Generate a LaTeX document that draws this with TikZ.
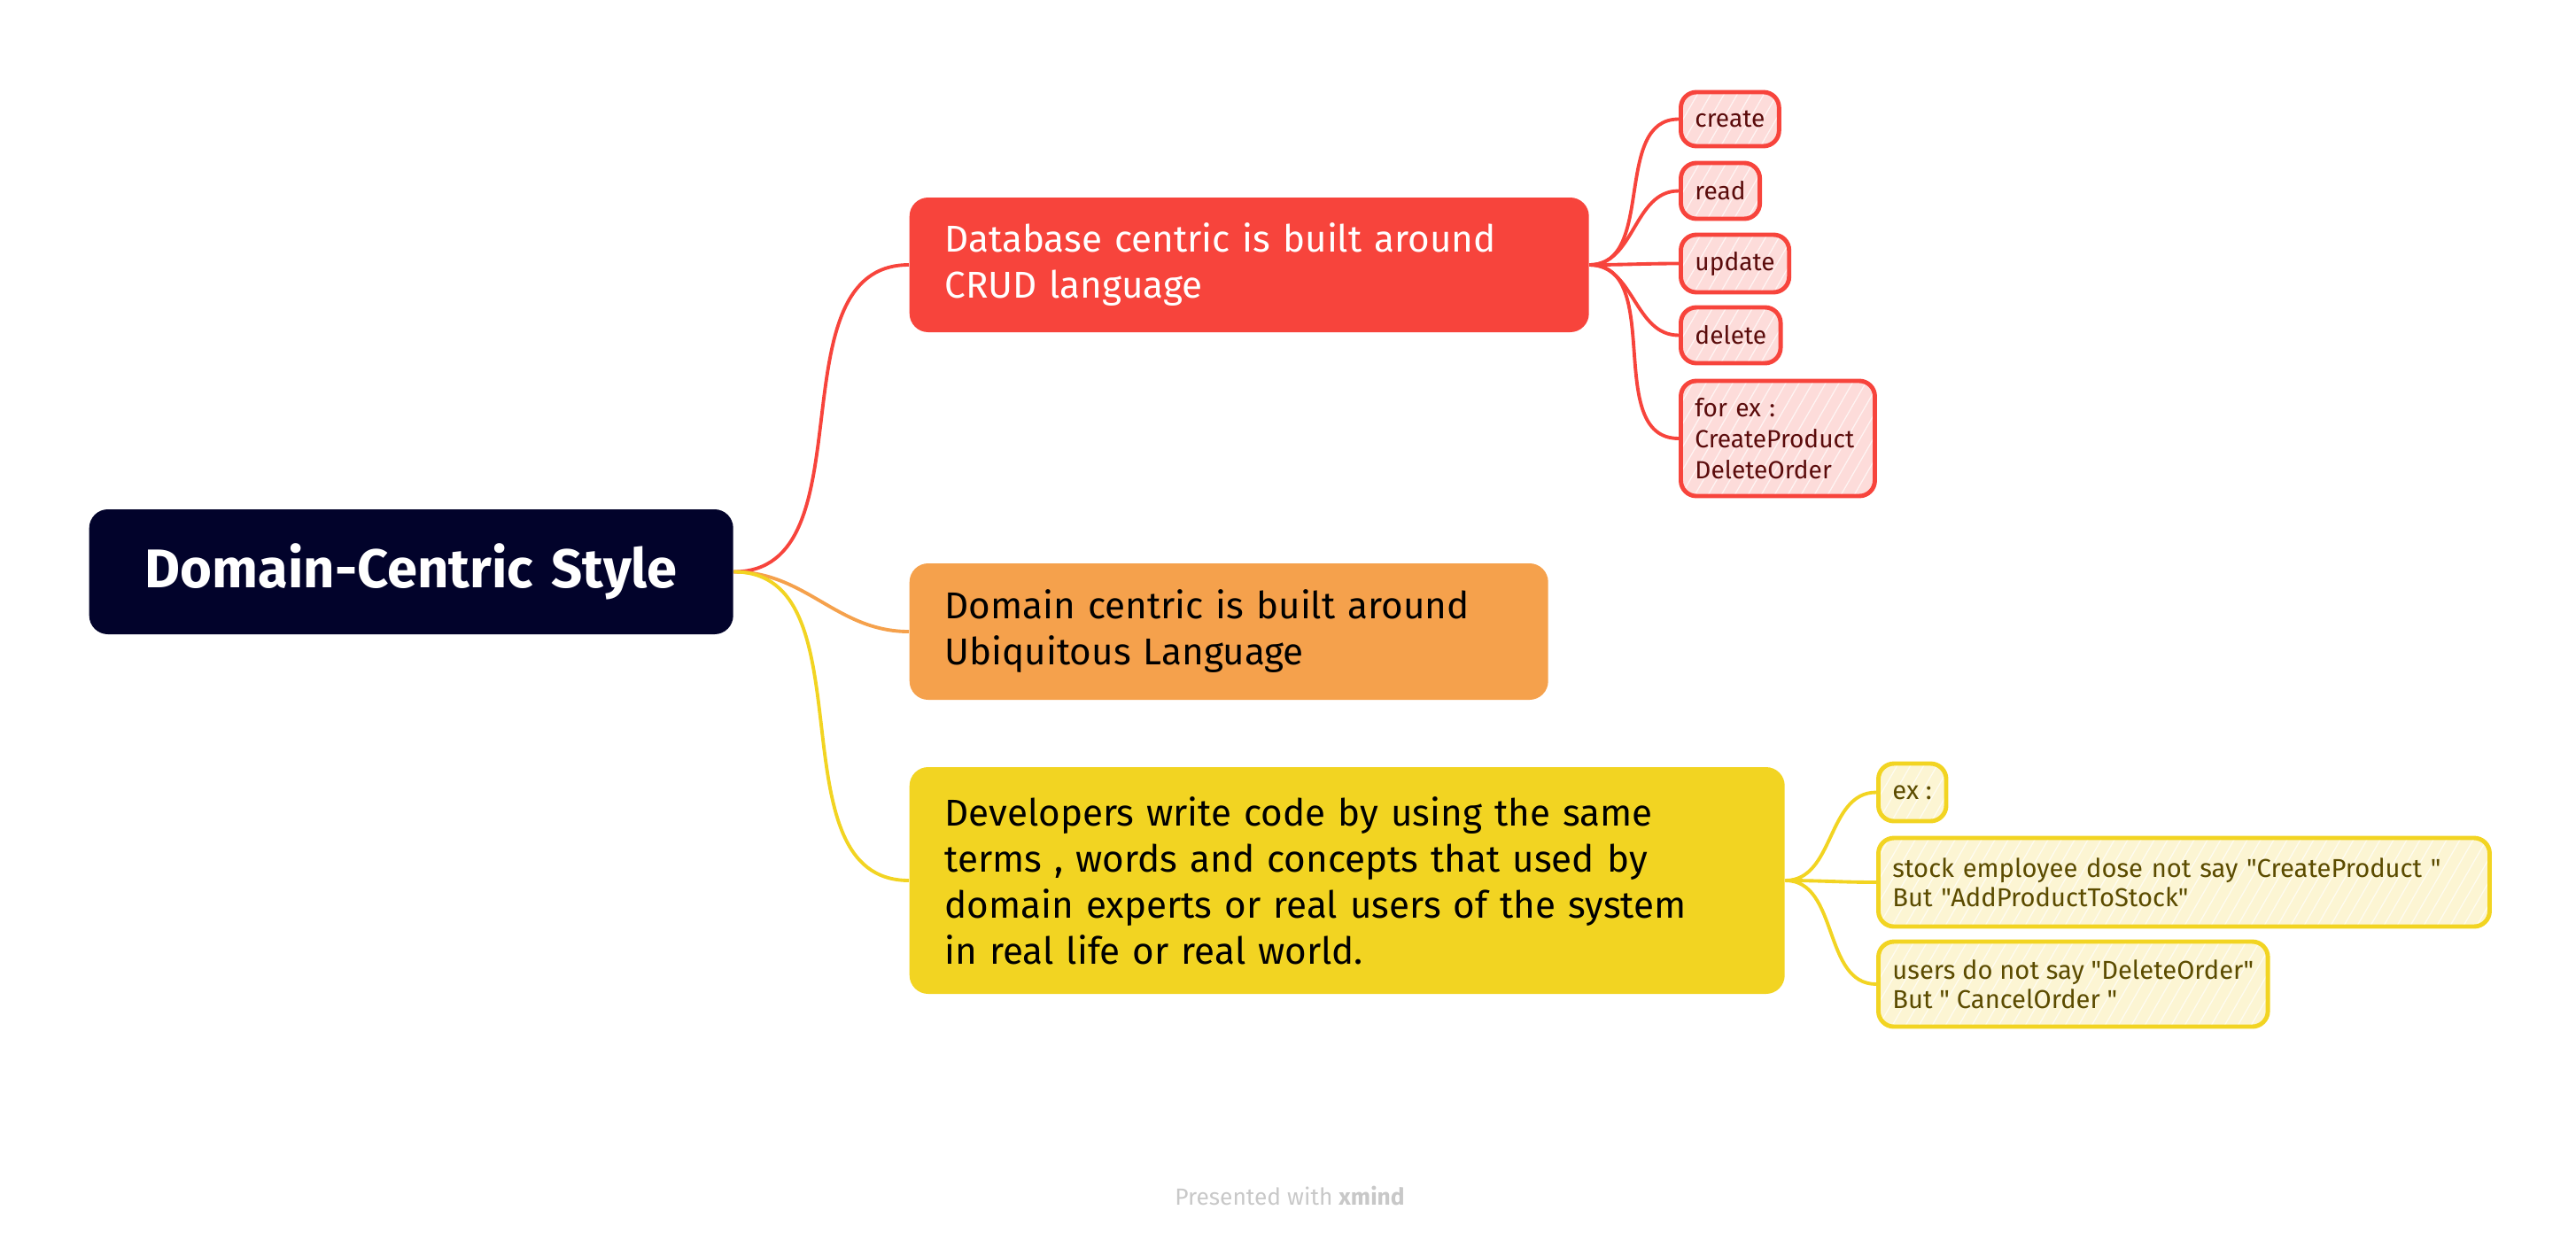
\documentclass[tikz,border=0pt]{standalone}
\usepackage{fontspec}
\setmainfont{Fira Sans}[Ligatures=TeXOff]
\usepackage{tikz}
\definecolor{rootnavy}{HTML}{02032B}
\definecolor{crudred}{HTML}{F7443C}
\definecolor{ubiqorange}{HTML}{F5A14C}
\definecolor{devyellow}{HTML}{F2D422}
\definecolor{crudpink}{HTML}{FDDCDA}
\definecolor{crudtext}{HTML}{5A0B0B}
\definecolor{devpale}{HTML}{FCF5D3}
\definecolor{devtext}{HTML}{5B4B00}
\definecolor{footgray}{HTML}{C8C8C8}
\tikzstyle{topic} = [anchor=west, rounded corners=6pt, inner xsep=0.4cm, inner ysep=0pt, align=left, font=\fontsize{12}{14.8}\selectfont]
\tikzstyle{hatch} = [path picture={\foreach \k in {-1.5,-1.35,...,7.2}
    \draw[white, line width=0.35pt, opacity=0.7] ([xshift=\k cm]path picture bounding box.south west) -- ++(0.75,-1.3);}]
\tikzstyle{crudsub} = [anchor=west, rounded corners=5pt, line width=1.4pt, draw=crudred, fill=crudpink, text=crudtext, inner xsep=0.16cm, inner ysep=0pt, align=left, hatch, font=\fontsize{8}{10}\selectfont]
\tikzstyle{devsub} = [crudsub, draw=devyellow, fill=devpale, text=devtext, font=\fontsize{8.3}{9.5}\selectfont]
\tikzstyle{branch} = [line width=1.1pt]

\begin{document}
\begin{tikzpicture}[y=-1cm]
\useasboundingbox (0,0) rectangle (29.08,14.00);
% central topic
\node[topic, fill=rootnavy, text=white, align=center, text width=6.47cm, minimum height=1.41cm, font=\fontsize{17.5}{20}\selectfont\bfseries] (root) at (1.00,6.455) {Domain-Centric Style};
% main branches
\node[topic, fill=crudred, text=white, text width=6.87cm, minimum height=1.52cm] (crud) at (10.26,2.99) {Database centric is built around\\CRUD language};
\node[topic, fill=ubiqorange, text width=6.41cm, minimum height=1.54cm] (ubiq) at (10.26,7.13) {Domain centric is built around\\Ubiquitous Language};
\node[topic, fill=devyellow, text width=9.08cm, minimum height=2.56cm] (dev) at (10.26,9.94) {Developers write code by using the same\\terms , words and concepts that used by\\domain experts or real users of the system\\in real life or real world.};
% CRUD words
\node[crudsub, minimum height=0.61cm] (create) at (18.95,1.345) {create};
\node[crudsub, minimum height=0.63cm] (read) at (18.95,2.155) {read};
\node[crudsub, minimum height=0.65cm] (update) at (18.95,2.975) {update};
\node[crudsub, minimum height=0.63cm] (delete) at (18.95,3.785) {delete};
\node[crudsub, text width=1.87cm, minimum height=1.30cm] (forex) at (18.95,4.95) {for ex :\\CreateProduct\\DeleteOrder};
% domain words
\node[devsub, minimum height=0.65cm] (exlabel) at (21.18,8.945) {ex :};
\node[devsub, text width=6.58cm, minimum height=1.00cm] (stock) at (21.18,9.96) {stock employee dose not say "CreateProduct "\\But "AddProductToStock"};
\node[devsub, minimum height=0.96cm] (users) at (21.18,11.11) {users do not say "DeleteOrder"\\But " CancelOrder "};
% connectors
\draw[branch, crudred] (root.east) to[out=0,in=180] (crud.west);
\draw[branch, ubiqorange] (root.east) to[out=0,in=180] (ubiq.west);
\draw[branch, devyellow] (root.east) to[out=0,in=180] (dev.west);
\foreach \n in {create,read,update,delete,forex}
    \draw[branch, crudred] (crud.east) to[out=0,in=180] (\n.west);
\foreach \n in {exlabel,stock,users}
    \draw[branch, devyellow] (dev.east) to[out=0,in=180] (\n.west);
\node[text=footgray, font=\fontsize{7.5}{9}\selectfont] (credit) at (14.56,13.50) {Presented with \textbf{xmind}};
\end{tikzpicture}
\end{document}
